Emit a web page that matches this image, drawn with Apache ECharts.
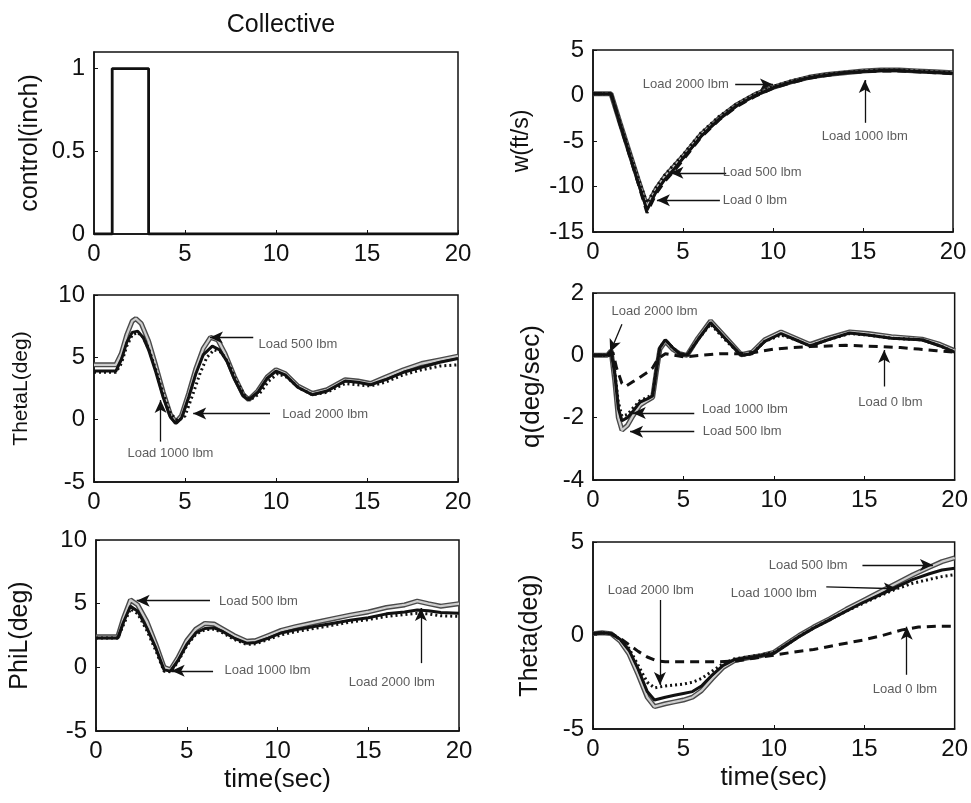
<!DOCTYPE html>
<html><head><meta charset="utf-8">
<script src="https://cdn.jsdelivr.net/npm/echarts@6/dist/echarts.min.js"></script>
<style>html,body{margin:0;padding:0;background:#fff}#c{width:971px;height:803px}</style>
</head><body><div id="c"></div>
<script>
// ---------- data ----------
const xTicks = [0, 5, 10, 15, 20];
const loads = ['Load 0 lbm', 'Load 500 lbm', 'Load 1000 lbm', 'Load 2000 lbm'];

const control = [[0,0],[1,0],[1,1],[3,1],[3,0],[20,0]];

const w0 = [[0,0.2],[1,0.2],[1.5,-3.2],[2,-6.4],[2.5,-9.6],[3,-12.9],[3.5,-10.8],[4,-9.4],[4.5,-8.3],[5,-7.1],[6,-4.6],[7,-2.7],[8,-1.2],[9,-0.1],[10,0.8],[11,1.4],[12,1.9],[13,2.2],[14,2.5],[15,2.6],[16,2.7],[17,2.7],[18,2.6],[19,2.5],[20,2.4]];
const w500 = [[0,0.2],[1,0.2],[1.5,-3.0],[2,-6.1],[2.5,-9.2],[3,-12.2],[3.5,-10.3],[4,-8.9],[4.5,-7.8],[5,-6.7],[6,-4.3],[7,-2.5],[8,-1.0],[9,0.1],[10,0.9],[11,1.5],[12,2.0],[13,2.3],[14,2.5],[15,2.7],[16,2.8],[17,2.8],[18,2.7],[19,2.6],[20,2.5]];
const w1000 = [[0,0.2],[1,0.2],[1.5,-3.1],[2,-6.3],[2.5,-9.5],[3,-12.6],[3.5,-10.6],[4,-9.2],[4.5,-8.1],[5,-6.9],[6,-4.5],[7,-2.6],[8,-1.1],[9,0.0],[10,0.85],[11,1.45],[12,1.95],[13,2.25],[14,2.5],[15,2.65],[16,2.75],[17,2.75],[18,2.65],[19,2.55],[20,2.45]];
const w2000 = [[0,0.2],[1,0.2],[1.5,-2.9],[2,-6.0],[2.5,-9.0],[3,-11.8],[3.5,-10.1],[4,-8.7],[4.5,-7.6],[5,-6.5],[6,-4.1],[7,-2.3],[8,-0.9],[9,0.2],[10,1.0],[11,1.6],[12,2.05],[13,2.35],[14,2.55],[15,2.7],[16,2.8],[17,2.8],[18,2.7],[19,2.6],[20,2.5]];

const thetaL500 = [[0,4.4],[1.2,4.4],[1.5,5.3],[1.8,6.8],[2.1,7.9],[2.3,8.1],[2.6,7.7],[3.0,6.3],[3.4,4.3],[3.8,2.2],[4.2,0.4],[4.5,-0.2],[4.8,0.3],[5.2,2.1],[5.6,4.1],[6.0,5.7],[6.4,6.6],[6.8,6.4],[7.2,5.3],[7.7,3.5],[8.2,2.0],[8.5,1.6],[9.0,2.3],[9.5,3.4],[10,4.0],[10.5,3.7],[11.2,2.7],[12,2.1],[12.8,2.4],[13.8,3.2],[14.5,3.1],[15.2,2.9],[16,3.4],[17,4.0],[18,4.5],[19,4.8],[20,5.1]];
const thetaL1000 = [[0,3.9],[1.2,3.9],[1.5,4.8],[1.8,6.2],[2.1,7.0],[2.4,7.1],[2.7,6.6],[3.0,5.6],[3.4,3.8],[3.8,1.8],[4.2,0.2],[4.5,-0.3],[4.8,0.1],[5.2,1.8],[5.6,3.7],[6.0,5.2],[6.5,5.9],[6.9,5.6],[7.3,4.7],[7.7,3.3],[8.2,1.9],[8.5,1.6],[9.0,2.2],[9.5,3.3],[10,3.9],[10.5,3.6],[11.2,2.6],[12,2.0],[12.8,2.3],[13.8,3.1],[14.5,3.0],[15.2,2.8],[16,3.2],[17,3.8],[18,4.2],[19,4.6],[20,4.9]];
const thetaL2000 = [[0,3.8],[1.2,3.8],[1.5,4.5],[1.8,5.9],[2.1,6.8],[2.4,7.0],[2.7,6.6],[3.0,5.7],[3.4,4.0],[3.8,2.1],[4.2,0.5],[4.6,-0.1],[5.0,0.3],[5.4,1.9],[5.8,3.6],[6.2,5.0],[6.6,5.6],[7.0,5.4],[7.4,4.5],[7.8,3.2],[8.3,1.9],[8.6,1.6],[9.1,2.1],[9.6,3.1],[10.1,3.7],[10.6,3.4],[11.3,2.5],[12,2.0],[12.8,2.2],[13.8,2.9],[14.5,2.8],[15.2,2.7],[16,3.0],[17,3.6],[18,4.0],[19,4.3],[20,4.4]];

const q0 = [[0,0],[0.9,0],[1.1,0.1],[1.3,-0.4],[1.6,-0.9],[1.8,-1.0],[2.2,-0.85],[2.6,-0.7],[3.0,-0.55],[3.3,-0.4],[3.6,-0.1],[4.0,0.05],[5.0,-0.05],[6.0,0.0],[7.0,0.05],[8.0,0.05],[9.0,0.1],[10,0.2],[11,0.25],[12,0.28],[13,0.3],[14,0.32],[15,0.3],[16,0.28],[17,0.25],[18,0.2],[19,0.15],[20,0.1]];
const q500 = [[0,0],[0.8,0],[1,0.15],[1.2,-0.8],[1.4,-2.0],[1.6,-2.4],[1.9,-2.25],[2.2,-1.95],[2.6,-1.6],[3.0,-1.45],[3.3,-1.35],[3.5,-0.55],[3.7,0.2],[4.0,0.45],[4.4,0.2],[4.8,0.05],[5.2,0.0],[5.8,0.55],[6.5,1.1],[7.3,0.6],[8.2,0.02],[8.8,0.1],[9.5,0.5],[10.4,0.75],[11.2,0.55],[12.0,0.35],[13.0,0.55],[14.2,0.75],[15.2,0.7],[16.5,0.6],[18.2,0.52],[19.2,0.35],[20,0.15]];
const q1000 = [[0,0],[0.8,0],[1,0.15],[1.2,-0.6],[1.4,-1.7],[1.6,-2.1],[1.9,-2.0],[2.2,-1.8],[2.6,-1.5],[3.0,-1.4],[3.3,-1.3],[3.5,-0.5],[3.7,0.25],[4.0,0.5],[4.4,0.25],[4.8,0.05],[5.2,0.0],[5.8,0.5],[6.5,1.05],[7.3,0.55],[8.2,0.0],[8.8,0.05],[9.5,0.45],[10.4,0.7],[11.2,0.5],[12.0,0.3],[13.0,0.5],[14.2,0.72],[15.2,0.65],[16.5,0.55],[18.2,0.5],[19.2,0.3],[20,0.1]];
const q2000 = [[0,0],[0.8,0],[1,0.15],[1.2,-0.5],[1.4,-1.5],[1.6,-1.95],[1.9,-1.9],[2.2,-1.7],[2.6,-1.45],[3.0,-1.35],[3.3,-1.25],[3.5,-0.45],[3.7,0.25],[4.0,0.5],[4.4,0.25],[4.8,0.05],[5.2,0.0],[5.8,0.5],[6.5,1.0],[7.3,0.5],[8.2,0.0],[8.8,0.05],[9.5,0.45],[10.4,0.65],[11.2,0.5],[12.0,0.3],[13.0,0.5],[14.2,0.7],[15.2,0.65],[16.5,0.55],[18.2,0.5],[19.2,0.3],[20,0.1]];

const phiL500 = [[0,2.4],[1.2,2.4],[1.5,3.8],[1.9,5.3],[2.3,4.9],[2.8,3.6],[3.3,1.8],[3.75,0.0],[4.1,-0.2],[4.5,0.7],[5.0,2.1],[5.5,3.0],[6.0,3.45],[6.5,3.4],[7.0,3.0],[7.6,2.5],[8.3,2.05],[8.8,2.1],[9.5,2.5],[10.2,2.9],[11,3.2],[12,3.5],[13,3.8],[14,4.1],[15,4.35],[16,4.7],[17,4.9],[17.7,5.2],[18.3,5.0],[19,4.8],[20,5.0]];
const phiL1000 = [[0,2.3],[1.2,2.3],[1.5,3.5],[1.9,4.8],[2.3,4.4],[2.8,3.1],[3.3,1.5],[3.75,-0.2],[4.1,-0.3],[4.5,0.5],[5.0,1.8],[5.5,2.7],[6.0,3.05],[6.5,3.1],[7.0,2.8],[7.6,2.3],[8.3,1.9],[8.8,1.95],[9.5,2.3],[10.2,2.7],[11,2.95],[12,3.2],[13,3.45],[14,3.7],[15,3.9],[16,4.2],[17,4.35],[17.7,4.5],[18.3,4.45],[19,4.3],[20,4.25]];
const phiL2000 = [[0,2.3],[1.2,2.3],[1.5,3.3],[1.9,4.6],[2.3,4.2],[2.8,2.9],[3.3,1.3],[3.75,-0.3],[4.1,-0.35],[4.5,0.4],[5.0,1.7],[5.5,2.6],[6.0,2.95],[6.5,3.0],[7.0,2.7],[7.6,2.2],[8.3,1.8],[8.8,1.85],[9.5,2.2],[10.2,2.55],[11,2.8],[12,3.05],[13,3.3],[14,3.55],[15,3.75],[16,4.0],[17,4.15],[17.7,4.25],[18.3,4.2],[19,4.05],[20,4.0]];

const theta0 = [[0,0.1],[0.5,0.15],[1.0,0.1],[1.5,-0.15],[2.0,-0.5],[2.5,-0.85],[3.0,-1.15],[3.5,-1.35],[4.0,-1.4],[5.0,-1.4],[6.0,-1.4],[7.0,-1.4],[8.0,-1.35],[9.0,-1.2],[10,-1.05],[11,-0.9],[12.2,-0.75],[13.5,-0.5],[14.9,-0.25],[16,0.0],[17.1,0.3],[18,0.45],[19,0.5],[20,0.5]];
const theta500 = [[0,0.1],[0.5,0.15],[1.0,0.1],[1.5,-0.3],[2.0,-1.0],[2.5,-2.1],[3.0,-3.3],[3.4,-3.8],[4.0,-3.65],[4.5,-3.55],[5.0,-3.45],[5.5,-3.3],[6.0,-2.95],[6.6,-2.3],[7.2,-1.7],[7.8,-1.35],[8.5,-1.2],[9.2,-1.1],[10,-0.9],[10.7,-0.45],[11.4,0.0],[12.2,0.45],[13.1,0.9],[14,1.4],[14.9,1.85],[15.8,2.3],[16.8,2.8],[17.7,3.25],[18.6,3.65],[19.3,3.95],[20,4.15]];
const theta1000 = [[0,0.1],[0.5,0.15],[1.0,0.1],[1.5,-0.2],[2.0,-0.8],[2.5,-1.8],[3.0,-3.0],[3.4,-3.45],[4.0,-3.3],[4.5,-3.2],[5.0,-3.1],[5.5,-3.0],[6.0,-2.7],[6.6,-2.1],[7.2,-1.6],[7.8,-1.3],[8.5,-1.2],[9.2,-1.1],[10,-0.95],[10.7,-0.5],[11.4,-0.05],[12.2,0.4],[13.1,0.85],[14,1.3],[14.9,1.75],[15.8,2.15],[16.8,2.6],[17.7,3.0],[18.6,3.3],[19.3,3.5],[20,3.6]];
const theta2000 = [[0,0.1],[0.5,0.15],[1.0,0.1],[1.5,-0.2],[2.0,-0.7],[2.5,-1.6],[3.0,-2.5],[3.4,-2.8],[4.0,-2.7],[4.5,-2.65],[5.0,-2.6],[5.5,-2.5],[6.0,-2.3],[6.6,-1.9],[7.2,-1.5],[7.8,-1.25],[8.5,-1.15],[9.2,-1.05],[10,-0.9],[10.7,-0.5],[11.4,-0.05],[12.2,0.4],[13.1,0.85],[14,1.3],[14.9,1.7],[15.8,2.1],[16.8,2.5],[17.7,2.8],[18.6,3.0],[19.3,3.15],[20,3.25]];

// annotation texts [t, value, text] and arrows [t1, v1, t2, v2] (arrowhead at t2,v2)
const wNotes = [[5.15,1.2,'Load 2000 lbm'],[15.1,-4.5,'Load 1000 lbm'],[9.4,-8.5,'Load 500 lbm'],[9.0,-11.5,'Load 0 lbm']];
const wArrows = [[7.9,1.2,10,1.2],[15.1,-3.0,15.1,1.7],[7.4,-8.5,4.3,-8.5],[7.05,-11.5,3.55,-11.5]];
const qNotes = [[3.4,1.4,'Load 2000 lbm'],[8.4,-1.75,'Load 1000 lbm'],[8.25,-2.45,'Load 500 lbm'],[16.45,-1.5,'Load 0 lbm']];
const qArrows = [[1.6,1.0,0.95,0.1],[5.6,-1.85,2.2,-1.85],[5.6,-2.45,2.05,-2.45],[16.1,-1.0,16.1,0.17]];
const thetaLNotes = [[11.2,6.0,'Load 500 lbm'],[12.7,0.45,'Load 2000 lbm'],[4.2,-2.7,'Load 1000 lbm']];
const thetaLArrows = [[8.75,6.6,6.37,6.6],[9.67,0.5,5.45,0.5],[3.66,-1.76,3.66,1.58]];
const phiLNotes = [[8.95,5.2,'Load 500 lbm'],[9.45,-0.27,'Load 1000 lbm'],[16.3,-1.15,'Load 2000 lbm']];
const phiLArrows = [[6.28,5.23,2.24,5.23],[6.45,-0.27,4.17,-0.27],[17.9,0.33,17.9,4.66]];
const thetaNotes = [[11.9,3.77,'Load 500 lbm'],[10.0,2.27,'Load 1000 lbm'],[3.2,2.43,'Load 2000 lbm'],[17.25,-2.9,'Load 0 lbm']];
const thetaArrows = [[14.9,3.77,18.8,3.77],[12.9,2.6,16.8,2.5],[3.7,1.9,3.7,-2.65],[17.35,-2.1,17.35,0.47]];

// ---------- layout ----------
const FONT = 'Liberation Sans, Arial, sans-serif';
const grids = [
  {left:94, top:52, width:364, height:182},
  {left:593, top:50, width:360, height:182},
  {left:94, top:295, width:364, height:187},
  {left:593, top:293, width:362, height:187},
  {left:96, top:540, width:363, height:191},
  {left:593, top:542, width:362, height:187}
];
const yCfg = [
  {min:0, max:1.1, interval:0.5, name:'control(inch)', gap:51, size:25, hideMax:true},
  {min:-15, max:5, interval:5, name:'w(ft/s)', gap:60, size:23},
  {min:-5, max:10, interval:5, name:'ThetaL(deg)', gap:62, size:21},
  {min:-4, max:2, interval:2, name:'q(deg/sec)', gap:48, size:26},
  {min:-5, max:10, interval:5, name:'PhiL(deg)', gap:63, size:25},
  {min:-5, max:5, interval:5, name:'Theta(deg)', gap:50, size:25}
];

const xAxis = grids.map((g, i) => ({
  type:'value', gridIndex:i, min:0, max:20, interval:5,
  name: i >= 4 ? 'time(sec)' : '', nameLocation:'middle', nameGap:36,
  nameTextStyle:{fontFamily:FONT, fontSize:26, color:'#111'},
  axisLine:{show:true, onZero:false, lineStyle:{color:'#111', width:1.5}},
  axisTick:{show:true, inside:true, length:4, lineStyle:{color:'#111'}},
  axisLabel:{fontFamily:FONT, fontSize:24, color:'#111', margin:8},
  splitLine:{show:false}
}));
const yAxis = yCfg.map((c, i) => ({
  type:'value', gridIndex:i, min:c.min, max:c.max, interval:c.interval,
  name:c.name, nameLocation:'middle', nameGap:c.gap, nameRotate:90,
  nameTextStyle:{fontFamily:FONT, fontSize:c.size, color:'#111'},
  axisLine:{show:true, onZero:false, lineStyle:{color:'#111', width:1.5}},
  axisTick:{show:true, inside:true, length:4, lineStyle:{color:'#111'}},
  axisLabel:{fontFamily:FONT, fontSize:24, color:'#111', margin:9, showMaxLabel: c.hideMax ? false : null},
  splitLine:{show:false}
}));

const STY = {
  dash:{color:'#111', width:3, type:[9,6]},
  greyOut:{color:'#4a4a4a', width:5, type:'solid'},
  greyIn:{color:'#cdcdcd', width:2.2, type:'solid'},
  solid:{color:'#111', width:3, type:'solid'},
  dot:{color:'#111', width:3, type:[2,3]}
};
const series = [];
function line(gi, data, sty, z, name){
  series.push({type:'line', name:name||'', xAxisIndex:gi, yAxisIndex:gi, data:data,
    showSymbol:false, symbol:'none', silent:true, z:z, animation:false,
    lineStyle:Object.assign({}, sty)});
}
function grey(gi, data){ line(gi, data, STY.greyOut, 2, loads[1]); line(gi, data, STY.greyIn, 3, loads[1]); }
function notes(gi, texts, arrows){
  series.push({type:'scatter', xAxisIndex:gi, yAxisIndex:gi, symbolSize:0, silent:true, z:10, animation:false,
    data: texts.map(n => ({value:[n[0], n[1]], name:n[2]})),
    label:{show:true, position:'inside', formatter:p=>p.name, fontFamily:FONT, fontSize:13, color:'#333'},
    markLine:{silent:true, symbol:['none','arrow'], symbolSize:[9,13], animation:false,
      lineStyle:{color:'#111', width:1.3, type:'solid'}, label:{show:false},
      data: arrows.map(a => [{coord:[a[0], a[1]]}, {coord:[a[2], a[3]]}])}
  });
}

line(0, control, {color:'#111', width:2.8, type:'solid'}, 4, 'control');

grey(1, w500); line(1, w0, STY.dash, 4, loads[0]); line(1, w2000, STY.dot, 4, loads[3]); line(1, w1000, STY.solid, 5, loads[2]);
notes(1, wNotes, wArrows);

grey(2, thetaL500); line(2, thetaL2000, STY.dot, 4, loads[3]); line(2, thetaL1000, STY.solid, 5, loads[2]);
notes(2, thetaLNotes, thetaLArrows);

grey(3, q500); line(3, q0, STY.dash, 4, loads[0]); line(3, q2000, STY.dot, 4, loads[3]); line(3, q1000, STY.solid, 5, loads[2]);
notes(3, qNotes, qArrows);

grey(4, phiL500); line(4, phiL2000, STY.dot, 4, loads[3]); line(4, phiL1000, STY.solid, 5, loads[2]);
notes(4, phiLNotes, phiLArrows);

grey(5, theta500); line(5, theta0, STY.dash, 4, loads[0]); line(5, theta2000, STY.dot, 4, loads[3]); line(5, theta1000, STY.solid, 5, loads[2]);
notes(5, thetaNotes, thetaArrows);

const chart = echarts.init(document.getElementById('c'), null, {renderer:'canvas'});
chart.setOption({
  backgroundColor:'#ffffff',
  animation:false,
  title:{text:'Collective', left:276, top:8, textAlign:'center',
    textStyle:{fontFamily:FONT, fontSize:25, fontWeight:'normal', color:'#111'}},
  grid: grids.map(g => Object.assign({show:true, borderColor:'#111', borderWidth:1.5, backgroundColor:'transparent'}, g)),
  xAxis: xAxis,
  yAxis: yAxis,
  series: series
});
</script>
</body></html>
